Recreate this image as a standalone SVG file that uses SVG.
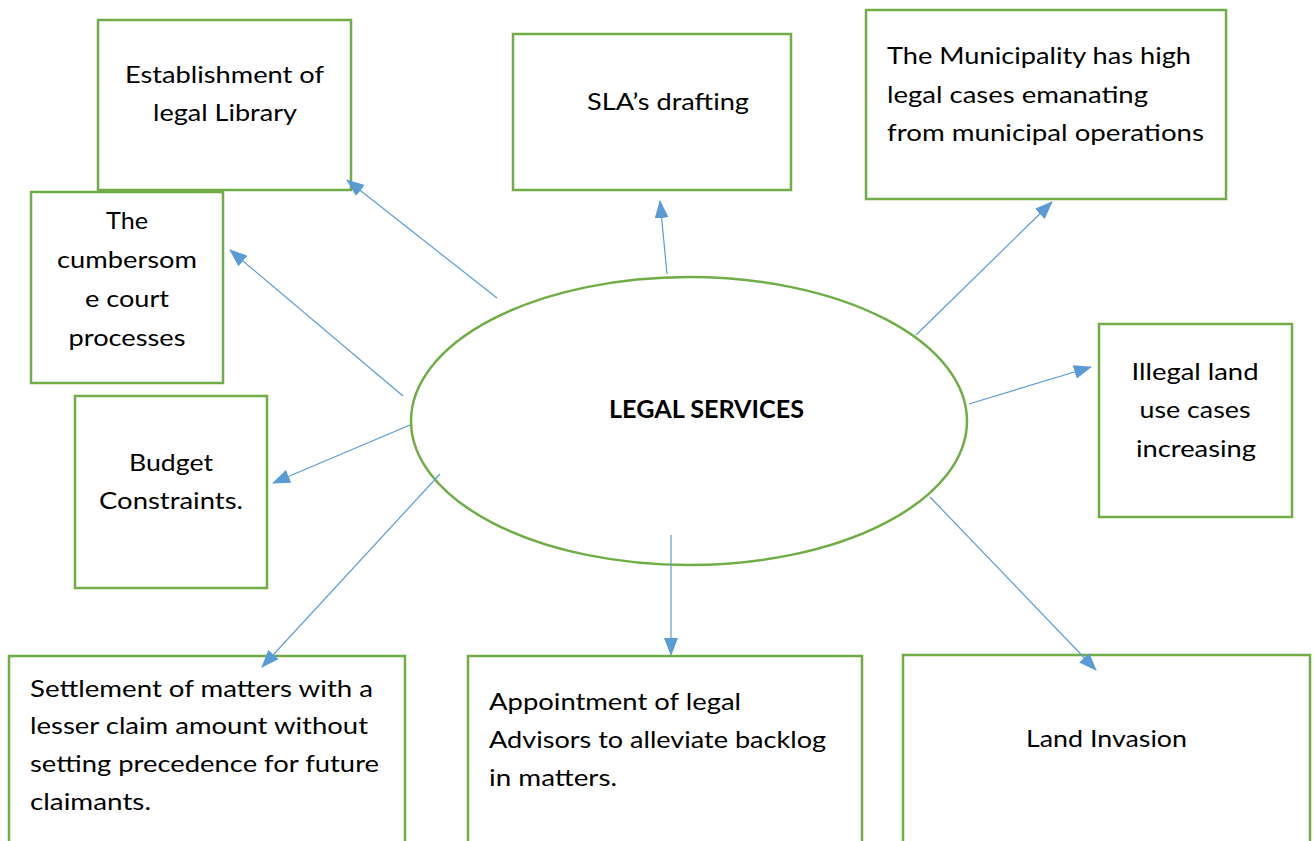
<svg xmlns="http://www.w3.org/2000/svg" width="1314" height="841" viewBox="0 0 1314 841">
<style>
.box{fill:#fff;stroke:#70AD47;stroke-width:2.5}
.t{font-family:Lato,"Open Sans","Liberation Sans",sans-serif;font-size:24px;fill:#000}
.c{text-anchor:middle}
.b{font-weight:bold}
.conn line{stroke:#5B9BD5;stroke-width:1.2;marker-end:url(#ah)}
</style>
<defs>
<marker id="ah" markerUnits="userSpaceOnUse" markerWidth="18" markerHeight="14" viewBox="0 0 18 14" refX="17" refY="7" orient="auto">
<path d="M0,0 L18,7 L0,14 z" fill="#5B9BD5"/>
</marker>
</defs>
<rect width="1314" height="841" fill="#fff"/>
<g id="center">
<ellipse cx="689" cy="421" rx="278" ry="144" fill="#fff" stroke="#70AD47" stroke-width="2.5"/>
<text class="t b" x="609" y="418" textLength="195" lengthAdjust="spacingAndGlyphs">LEGAL SERVICES</text>
</g>
<g id="n1">
<rect class="box" x="98" y="20" width="253" height="170"/>
<text class="t" x="125" y="83" textLength="199" lengthAdjust="spacingAndGlyphs">Establishment of</text>
<text class="t" x="153" y="121" textLength="144" lengthAdjust="spacingAndGlyphs">legal Library</text>
</g>
<g id="n2">
<rect class="box" x="31" y="192" width="192" height="191"/>
<text class="t c" x="127" y="229" textLength="42" lengthAdjust="spacingAndGlyphs">The</text>
<text class="t c" x="127" y="268" textLength="140" lengthAdjust="spacingAndGlyphs">cumbersom</text>
<text class="t c" x="127" y="307" textLength="84" lengthAdjust="spacingAndGlyphs">e court</text>
<text class="t c" x="127" y="346" textLength="117" lengthAdjust="spacingAndGlyphs">processes</text>
</g>
<g id="n3">
<rect class="box" x="75" y="396" width="192" height="192"/>
<text class="t c" x="171" y="471" textLength="84" lengthAdjust="spacingAndGlyphs">Budget</text>
<text class="t c" x="171" y="509" textLength="144" lengthAdjust="spacingAndGlyphs">Constraints.</text>
</g>
<g id="n4">
<rect class="box" x="513" y="34" width="278" height="156"/>
<text class="t" x="587" y="110" textLength="162" lengthAdjust="spacingAndGlyphs">SLA’s drafting</text>
</g>
<g id="n5">
<rect class="box" x="866" y="10" width="360" height="189"/>
<text class="t" x="887" y="64" textLength="304" lengthAdjust="spacingAndGlyphs">The Municipality has high</text>
<text class="t" x="887" y="103" textLength="261" lengthAdjust="spacingAndGlyphs">legal cases emanating</text>
<text class="t" x="887" y="141" textLength="317" lengthAdjust="spacingAndGlyphs">from municipal operations</text>
</g>
<g id="n6">
<rect class="box" x="1099" y="324" width="193" height="193"/>
<text class="t c" x="1195" y="380" textLength="127" lengthAdjust="spacingAndGlyphs">Illegal land</text>
<text class="t c" x="1195" y="418" textLength="111" lengthAdjust="spacingAndGlyphs">use cases</text>
<text class="t c" x="1196" y="457" textLength="120" lengthAdjust="spacingAndGlyphs">increasing</text>
</g>
<g id="n7">
<rect class="box" x="9" y="656" width="396" height="190"/>
<text class="t" x="30" y="697" textLength="343" lengthAdjust="spacingAndGlyphs">Settlement of matters with a</text>
<text class="t" x="30" y="734" textLength="338" lengthAdjust="spacingAndGlyphs">lesser claim amount without</text>
<text class="t" x="30" y="772" textLength="349" lengthAdjust="spacingAndGlyphs">setting precedence for future</text>
<text class="t" x="30" y="810" textLength="121" lengthAdjust="spacingAndGlyphs">claimants.</text>
</g>
<g id="n8">
<rect class="box" x="468" y="656" width="394" height="190"/>
<text class="t" x="489" y="710" textLength="252" lengthAdjust="spacingAndGlyphs">Appointment of legal</text>
<text class="t" x="489" y="748" textLength="337" lengthAdjust="spacingAndGlyphs">Advisors to alleviate backlog</text>
<text class="t" x="489" y="786" textLength="128" lengthAdjust="spacingAndGlyphs">in matters.</text>
</g>
<g id="n9">
<rect class="box" x="903" y="655" width="407" height="191"/>
<text class="t" x="1026" y="747" textLength="161" lengthAdjust="spacingAndGlyphs">Land Invasion</text>
</g>
<g class="conn" id="connectors">
<line x1="497" y1="298" x2="347" y2="180"/>
<line x1="403" y1="396" x2="230" y2="250"/>
<line x1="410" y1="425" x2="273" y2="483"/>
<line x1="440" y1="474" x2="262" y2="667"/>
<line x1="671" y1="535" x2="671" y2="655"/>
<line x1="930" y1="497" x2="1096" y2="670"/>
<line x1="969" y1="404" x2="1091" y2="367"/>
<line x1="916" y1="335" x2="1052" y2="202"/>
<line x1="667" y1="274" x2="660" y2="201"/>
</g>
</svg>
